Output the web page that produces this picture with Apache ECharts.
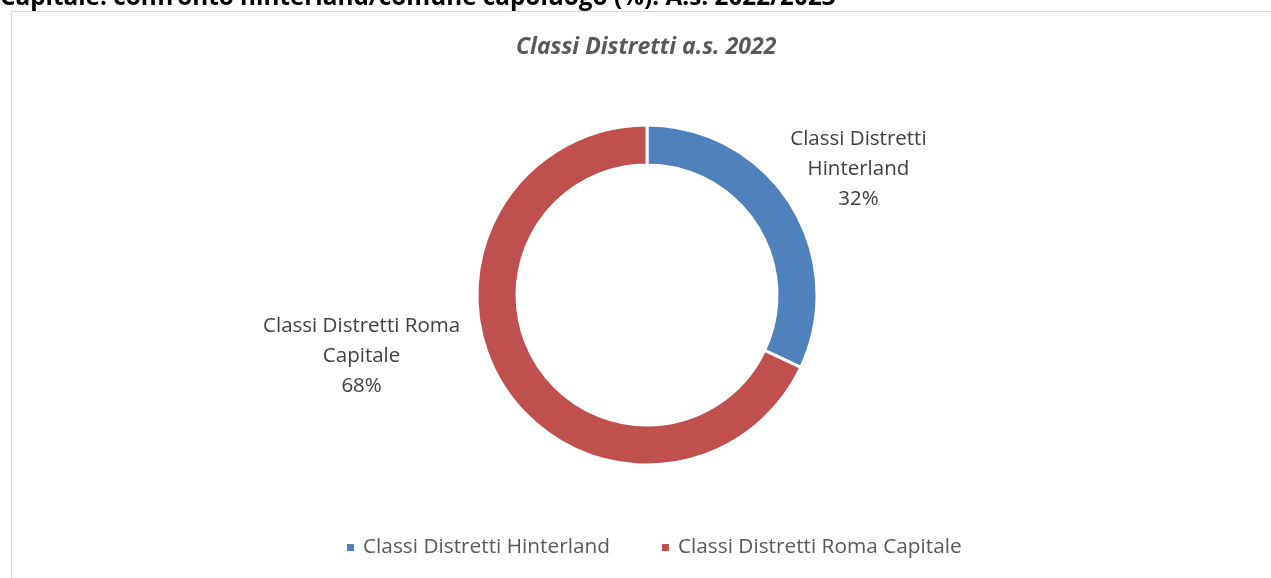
<!DOCTYPE html>
<html>
<head>
<meta charset="utf-8">
<script src="https://cdn.jsdelivr.net/npm/echarts@6/dist/echarts.min.js"></script>
<style>
html,body{margin:0;padding:0;background:#fff;}
#chart{width:1271px;height:578px;}
</style>
</head>
<body>
<div id="chart"></div>
<script>
const pageTitle = "Capitale: confronto hinterland/comune capoluogo (%). A.s. 2022/2023";
const chartTitle = "Classi Distretti a.s. 2022";
const categories = ["Classi Distretti Hinterland", "Classi Distretti Roma Capitale"];
const labelNames = ["Classi Distretti\nHinterland", "Classi Distretti Roma\nCapitale"];
const values = [32, 68];
const colors = ["#4f81bd", "#c0504d"];

const FONT = "'Open Sans', 'Noto Sans', sans-serif";
const labelShift = [[46, -24], [-120, -41]];
const chart = echarts.init(document.getElementById('chart'));
chart.setOption({
  animation: false,
  color: colors,
  title: {
    text: chartTitle,
    left: 511,
    top: 31,
    textStyle: {fontFamily: FONT, fontSize: 23, fontStyle: 'italic', fontWeight: 'bold', color: '#595959'}
  },
  legend: {
    bottom: 15,
    left: 340,
    itemWidth: 9, itemHeight: 9,
    itemGap: 50,
    icon: 'rect',
    textStyle: {fontFamily: FONT, fontSize: 20.8, color: '#595959', padding: [0, 0, 0, 3]},
    data: categories
  },
  graphic: [
    {type: 'rect', shape: {x: 11.5, y: 11.5, width: 1300, height: 600}, style: {fill: 'none', stroke: '#d9d9d9', lineWidth: 1}},
    {type: 'text', left: 0, top: -14, style: {text: pageTitle, font: "bold 24.3px " + FONT, fill: '#000'}}
  ],
  series: [{
    type: 'pie',
    center: [647, 295],
    radius: [130, 170],
    startAngle: 90,
    clockwise: true,
    itemStyle: {borderColor: '#fff', borderWidth: 3},
    label: {
      show: true,
      position: 'outside',
      fontFamily: FONT,
      fontSize: 20.5,
      lineHeight: 30,
      color: '#404040',
      formatter: p => labelNames[p.dataIndex] + "\n" + Math.round(p.percent) + "%"
    },
    labelLine: {show: false, length: 20, length2: 0},
    labelLayout: p => ({align: 'center', verticalAlign: 'middle', dx: labelShift[p.dataIndex][0], dy: labelShift[p.dataIndex][1]}),
    emphasis: {disabled: true},
    data: categories.map((c, i) => ({name: c, value: values[i]}))
  }]
});
</script>
</body>
</html>
